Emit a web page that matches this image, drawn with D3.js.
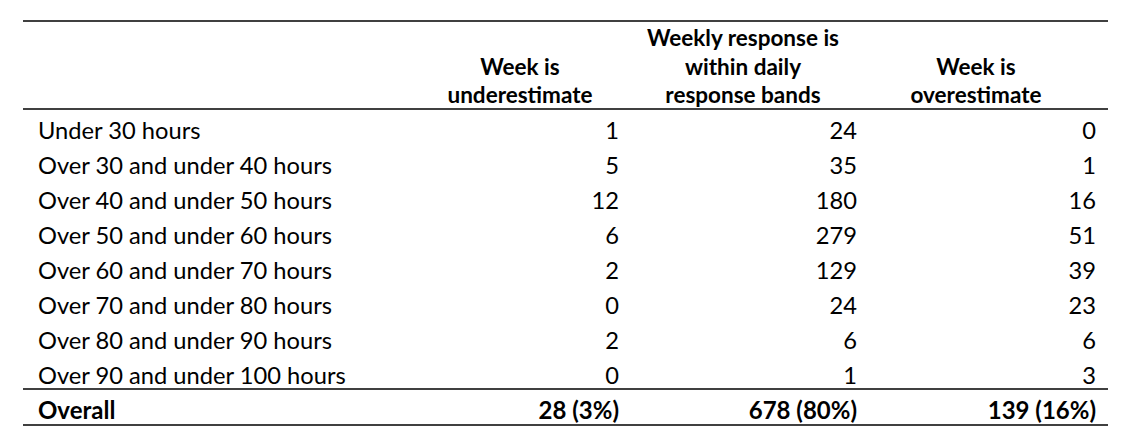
<!DOCTYPE html>
<html>
<head>
<meta charset="utf-8">
<script src="https://cdn.jsdelivr.net/npm/d3@7"></script>
<style>
  body { margin: 0; background: #fff; }
  svg text { font-family: Lato, "Open Sans", sans-serif; fill: #000; }
</style>
</head>
<body>
<div id="table"></div>
<script>
// Table data
const categories = [
  "Under 30 hours",
  "Over 30 and under 40 hours",
  "Over 40 and under 50 hours",
  "Over 50 and under 60 hours",
  "Over 60 and under 70 hours",
  "Over 70 and under 80 hours",
  "Over 80 and under 90 hours",
  "Over 90 and under 100 hours"
];
const columnHeaders = [
  ["Week is", "underestimate"],
  ["Weekly response is", "within daily", "response bands"],
  ["Week is", "overestimate"]
];
const underestimate = [1, 5, 12, 6, 2, 0, 2, 0];
const withinBands = [24, 35, 180, 279, 129, 24, 6, 1];
const overestimate = [0, 1, 16, 51, 39, 23, 6, 3];
const overallLabel = "Overall";
const overallValues = ["28 (3%)", "678 (80%)", "139 (16%)"];

const WIDTH = 1123;
const HEIGHT = 442;
const LEFT = 23, RIGHT = 1108;
const HEAD_SIZE = 22.5;
const BODY_SIZE = 23.7;
const TOTAL_SIZE = 24;

const svg = d3.select("#table").append("svg")
  .attr("width", WIDTH).attr("height", HEIGHT);

// column right edges for numbers, centres for headers
const colRight = d3.scaleOrdinal().domain([0, 1, 2]).range([619, 857, 1096]);
const colCentre = d3.scaleOrdinal().domain([0, 1, 2]).range([520, 743, 976]);

// row positions
const yRow = d3.scaleBand()
  .domain(categories)
  .range([113.5, 393.5]);

const series = [underestimate, withinBands, overestimate];

// rules
const rules = [21, 109, 389, 425];
svg.selectAll("line.rule").data(rules).join("line")
  .attr("class", "rule")
  .attr("x1", LEFT).attr("x2", RIGHT)
  .attr("y1", d => d).attr("y2", d => d)
  .attr("stroke", "#000").attr("stroke-width", 1.3);

// headers (bottom-aligned)
const headerBase = 103;
const headerLine = 28.5;
columnHeaders.forEach((lines, c) => {
  svg.append("g").selectAll("text").data(lines).join("text")
    .attr("x", colCentre(c))
    .attr("y", (d, i) => headerBase - (lines.length - 1 - i) * headerLine)
    .attr("text-anchor", "middle")
    .attr("font-weight", "bold")
    .attr("font-size", HEAD_SIZE)
    .text(d => d);
});

// row labels
const rowY = d => yRow(d) + yRow.bandwidth() / 2;
svg.append("g").selectAll("text").data(categories).join("text")
  .attr("x", 38)
  .attr("y", rowY)
  .attr("dy", "0.35em")
  .attr("font-size", BODY_SIZE)
  .text(d => d);

// values
series.forEach((vals, c) => {
  svg.append("g").selectAll("text").data(vals).join("text")
    .attr("x", colRight(c))
    .attr("y", (d, i) => rowY(categories[i]))
    .attr("dy", "0.35em")
    .attr("text-anchor", "end")
    .attr("font-size", BODY_SIZE)
    .text(d => d);
});

// overall row
const overallY = 410.5;
svg.append("text")
  .attr("x", 38).attr("y", overallY).attr("dy", "0.35em")
  .attr("font-weight", "bold").attr("font-size", TOTAL_SIZE)
  .text(overallLabel);
svg.append("g").selectAll("text").data(overallValues).join("text")
  .attr("x", (d, i) => colRight(i))
  .attr("y", overallY).attr("dy", "0.35em")
  .attr("text-anchor", "end")
  .attr("font-weight", "bold")
  .attr("font-size", TOTAL_SIZE)
  .text(d => d);
</script>
</body>
</html>
